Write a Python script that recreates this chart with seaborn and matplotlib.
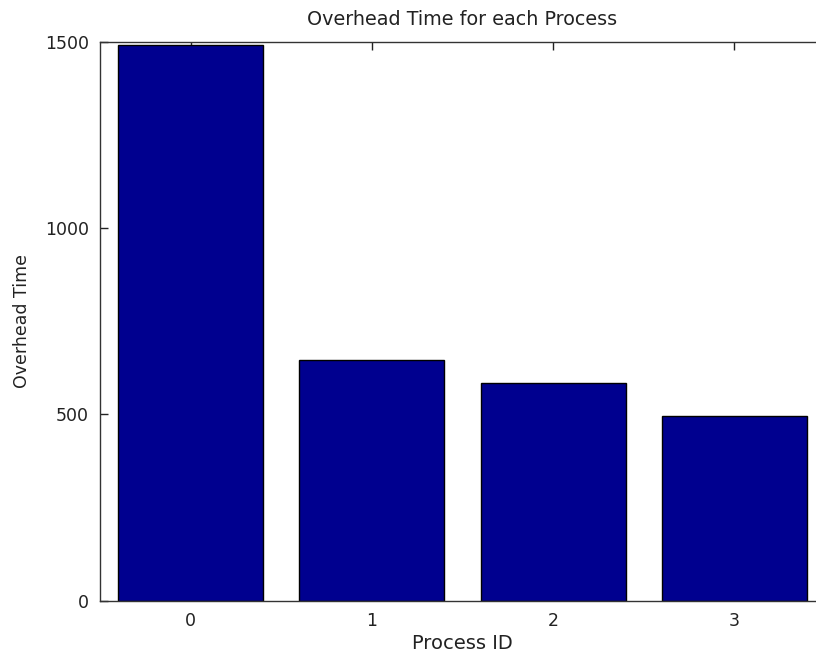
import pandas as pd
import matplotlib.pyplot as plt
import seaborn as sns

# values
process_ids = ['0', '1', '2', '3']
overhead = [1492, 646, 585, 496]

data = pd.DataFrame({'Process ID': process_ids, 'Overhead Time': overhead})

sns.set_style('white')
plt.rcParams['font.family'] = ['DejaVu Sans']

fig = plt.figure(figsize=(8.16, 6.56), dpi=100)
# axes run past the right edge of the figure, as in the original
ax = fig.add_axes([100 / 816, 55.3 / 656, 725 / 816, 558.7 / 656])
sns.barplot(x='Process ID', y='Overhead Time', data=data, color='#00008f',
            saturation=1, edgecolor='black', linewidth=1, width=0.8, ax=ax)

ax.set_xlim(-0.5, 3.5)
ax.set_ylim(0, 1500)
ax.set_yticks([0, 500, 1000, 1500])
ax.set_title('Overhead Time for each Process', fontsize=13.8, color='#222222', pad=12)
ax.set_xlabel('Process ID', fontsize=14, color='#222222', labelpad=3)
ax.set_ylabel('Overhead Time', fontsize=12.5, color='#222222', labelpad=10)
ax.tick_params(direction='in', length=6, width=1, labelsize=12.5, colors='#222222',
               top=True, right=True, bottom=True, left=True, pad=8)
for s in ax.spines.values():
    s.set_visible(True)
    s.set_color('#333333')
    s.set_linewidth(1)

plt.savefig('out.png', dpi=100)
plt.clf()
